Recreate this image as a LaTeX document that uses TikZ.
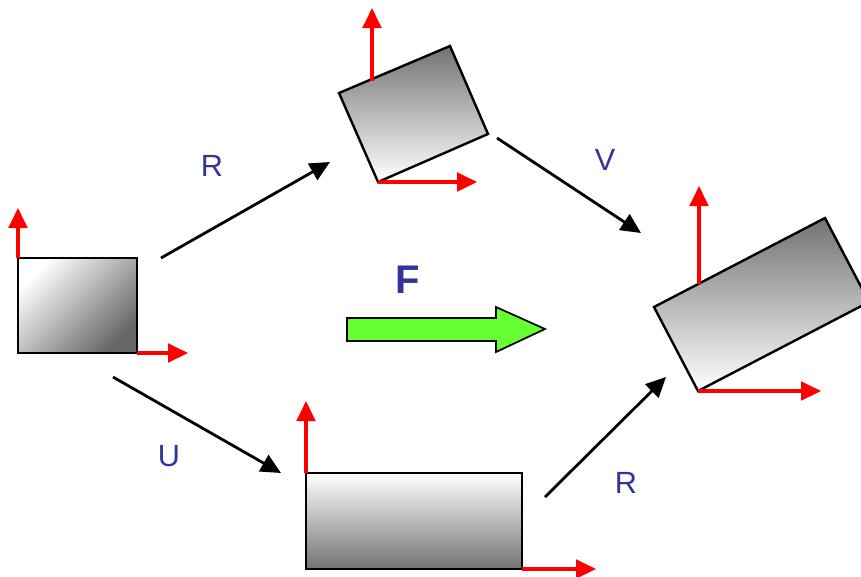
\documentclass[tikz,border=0pt]{standalone}
\usepackage{fontspec}
\setmainfont{Liberation Sans}
\usetikzlibrary{arrows.meta}
\definecolor{lbl}{HTML}{333399}
\definecolor{fgreen}{HTML}{66FF33}
\tikzset{
  box/.style={draw=black, line width=1.8pt, line join=miter},
  axisarrow/.style={draw=red, line width=2.6pt, -{Triangle[length=15pt,width=14pt]}},
  maparrow/.style={draw=black, line width=2.1pt, -{Triangle[length=15pt,width=14pt]}},
  maplabel/.style={text=lbl, font=\fontsize{23}{25}\selectfont, inner sep=0pt},
}
\begin{document}
\begin{tikzpicture}[x=0.75pt,y=-0.75pt]
\useasboundingbox (0,0) rectangle (861,576);
\begin{scope}
\clip (0,0) rectangle (861,576);
% Box A (original)
\coordinate (A1) at (18,258);
\coordinate (A2) at (137,258);
\coordinate (A3) at (137,353);
\coordinate (A4) at (18,353);
\shade[top color=white, bottom color=black!60, shading angle=45] (A1) -- (A2) -- (A3) -- (A4) -- cycle;
\draw[box] (A1) -- (A2) -- (A3) -- (A4) -- cycle;
\coordinate (Au) at (18,208);
\coordinate (Ar) at (188,353);
\draw[axisarrow] (A1) -- (Au);
\draw[axisarrow] (A3) -- (Ar);
% Box B (rotated)
\coordinate (B1) at (339,93);
\coordinate (B2) at (450,46);
\coordinate (B3) at (488,134);
\coordinate (B4) at (378,182);
\shade[top color=black!55, bottom color=white] (B1) -- (B2) -- (B3) -- (B4) -- cycle;
\draw[box] (B1) -- (B2) -- (B3) -- (B4) -- cycle;
\coordinate (Bb) at (372,81);
\coordinate (Bu) at (372,8);
\coordinate (Br) at (477,182);
\draw[axisarrow] (Bb) -- (Bu);
\draw[axisarrow] (B4) -- (Br);
% Box C (rotated and scaled)
\coordinate (C1) at (654,307);
\coordinate (C2) at (825,218);
\coordinate (C3) at (869,302);
\coordinate (C4) at (698,391);
\shade[top color=black!55, bottom color=white] (C1) -- (C2) -- (C3) -- (C4) -- cycle;
\draw[box] (C1) -- (C2) -- (C3) -- (C4) -- cycle;
\coordinate (Cb) at (699,284);
\coordinate (Cu) at (699,186);
\coordinate (Cr) at (821,391);
\draw[axisarrow] (Cb) -- (Cu);
\draw[axisarrow] (C4) -- (Cr);
% Box D (scaled)
\coordinate (D1) at (306,473);
\coordinate (D2) at (522,473);
\coordinate (D3) at (522,569);
\coordinate (D4) at (306,569);
\shade[top color=white, bottom color=black!55] (D1) -- (D2) -- (D3) -- (D4) -- cycle;
\draw[box] (D1) -- (D2) -- (D3) -- (D4) -- cycle;
\coordinate (Du) at (306,401);
\coordinate (Dr) at (596,569);
\draw[axisarrow] (D1) -- (Du);
\draw[axisarrow] (D3) -- (Dr);
\end{scope}
% mapping arrows
\coordinate (r1s) at (161,258);
\coordinate (r1e) at (330,162);
\coordinate (vs) at (497,138);
\coordinate (ve) at (641,233);
\coordinate (us) at (113,377);
\coordinate (ue) at (281,473);
\coordinate (r2s) at (545,497);
\coordinate (r2e) at (666,377);
\draw[maparrow] (r1s) -- (r1e);
\draw[maparrow] (vs) -- (ve);
\draw[maparrow] (us) -- (ue);
\draw[maparrow] (r2s) -- (r2e);
\node[maplabel] (lR1) at (212,166) {R};
\node[maplabel] (lV) at (605,160) {V};
\node[maplabel] (lU) at (169,456) {U};
\node[maplabel] (lR2) at (626,483) {R};
% F arrow
\node[text=lbl, font=\fontsize{30}{32}\selectfont\bfseries, inner sep=0pt] (lF) at (408,280) {F};
\draw[fill=fgreen, draw=black, line width=1.3pt, line join=miter]
  (347,318) -- (496,318) -- (496,307) -- (545,329) -- (496,352) -- (496,341) -- (347,341) -- cycle;
\end{tikzpicture}
\end{document}
